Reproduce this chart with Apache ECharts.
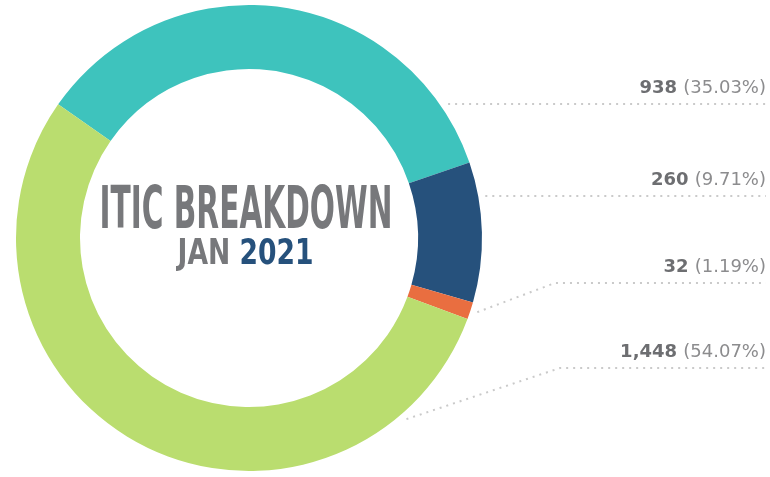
<!DOCTYPE html>
<html>
<head>
<meta charset="utf-8">
<script src="https://cdn.jsdelivr.net/npm/echarts@6/dist/echarts.min.js"></script>
<style>
  html, body { margin: 0; padding: 0; background: #fff; }
  #chart { width: 770px; height: 477px; }
</style>
</head>
<body>
<div id="chart"></div>
<script>
// slices, clockwise from upper left
const categories = ['Teal', 'Navy', 'Orange', 'Green']
const values = [938, 260, 32, 1448]
const colors = ['#3ec3bd', '#26517c', '#e96e40', '#badd6f']
const titleText = 'ITIC BREAKDOWN'
const subTitleMonth = 'JAN'
const subTitleYear = '2021'

// layout of the ring and the label leaders
const CX = 249, CY = 238
const R_IN = 169, R_OUT = 233
const LEAD_R = 240
const LABEL_RIGHT = 766
const labelLineY = [104, 196, 283, 368]
const anchorDeg = [null, null, 18, 49] // null = horizontal leader that meets the ring
const kneeX = [null, null, 555, 560]

const TITLE_FONT = 'bold 59px "DejaVu Sans Condensed"'
const SUB_FONT = 'bold 35px "DejaVu Sans Condensed"'

function measure(font, text) {
  const ctx = document.createElement('canvas').getContext('2d')
  ctx.font = font
  return ctx.measureText(text).width
}
const titleScale = 293 / measure(TITLE_FONT, titleText)
const subScale = 136 / measure(SUB_FONT, subTitleMonth + ' ' + subTitleYear)

const startAngle = 90 + 55 // first slice starts 55deg left of 12 o'clock

const chart = echarts.init(document.getElementById('chart'))

chart.setOption({
  animation: false,
  series: [{
    type: 'pie',
    center: [CX, CY],
    radius: [R_IN, R_OUT],
    startAngle: startAngle,
    clockwise: true,
    avoidLabelOverlap: false,
    percentPrecision: 2,
    silent: true,
    data: categories.map((name, i) => ({
      name: name,
      value: values[i],
      itemStyle: { color: colors[i] }
    })),
    label: {
      show: true,
      formatter: p => '{v|' + p.value.toLocaleString('en-US') + ' }{p|(' + p.percent.toFixed(2) + '%)}',
      rich: {
        v: { fontFamily: 'DejaVu Sans', fontWeight: 'bold', fontSize: 18, color: '#6d6e71', lineHeight: 20 },
        p: { fontFamily: 'DejaVu Sans', fontSize: 18, color: '#8c8c8e', lineHeight: 20 }
      }
    },
    labelLine: {
      show: true,
      smooth: false,
      lineStyle: { color: '#cacaca', width: 2, type: [2, 5], cap: 'butt' }
    },
    labelLayout: params => {
      const i = params.dataIndex
      const y = labelLineY[i]
      let start, knee
      if (anchorDeg[i] === null) {
        const dx = Math.sqrt(LEAD_R * LEAD_R - (y - CY) * (y - CY))
        start = [CX + dx, y]
        knee = start
      } else {
        const a = anchorDeg[i] * Math.PI / 180
        start = [CX + LEAD_R * Math.cos(a), CY + LEAD_R * Math.sin(a)]
        knee = [kneeX[i], y]
      }
      return {
        x: LABEL_RIGHT,
        y: y - 6,
        align: 'right',
        verticalAlign: 'bottom',
        labelLinePoints: [start, knee, [LABEL_RIGHT, y]]
      }
    }
  }],
  graphic: [
    {
      type: 'text',
      x: 246,
      y: 213,
      scaleX: titleScale,
      style: {
        text: titleText,
        font: TITLE_FONT,
        fill: '#77787b',
        align: 'center',
        verticalAlign: 'middle'
      }
    },
    {
      type: 'text',
      x: 245.5,
      y: 255,
      scaleX: subScale,
      style: {
        text: '{m|' + subTitleMonth + ' }{y|' + subTitleYear + '}',
        align: 'center',
        verticalAlign: 'middle',
        rich: {
          m: { font: SUB_FONT, fill: '#77787b' },
          y: { font: SUB_FONT, fill: '#26517c' }
        }
      }
    }
  ]
})
</script>
</body>
</html>
